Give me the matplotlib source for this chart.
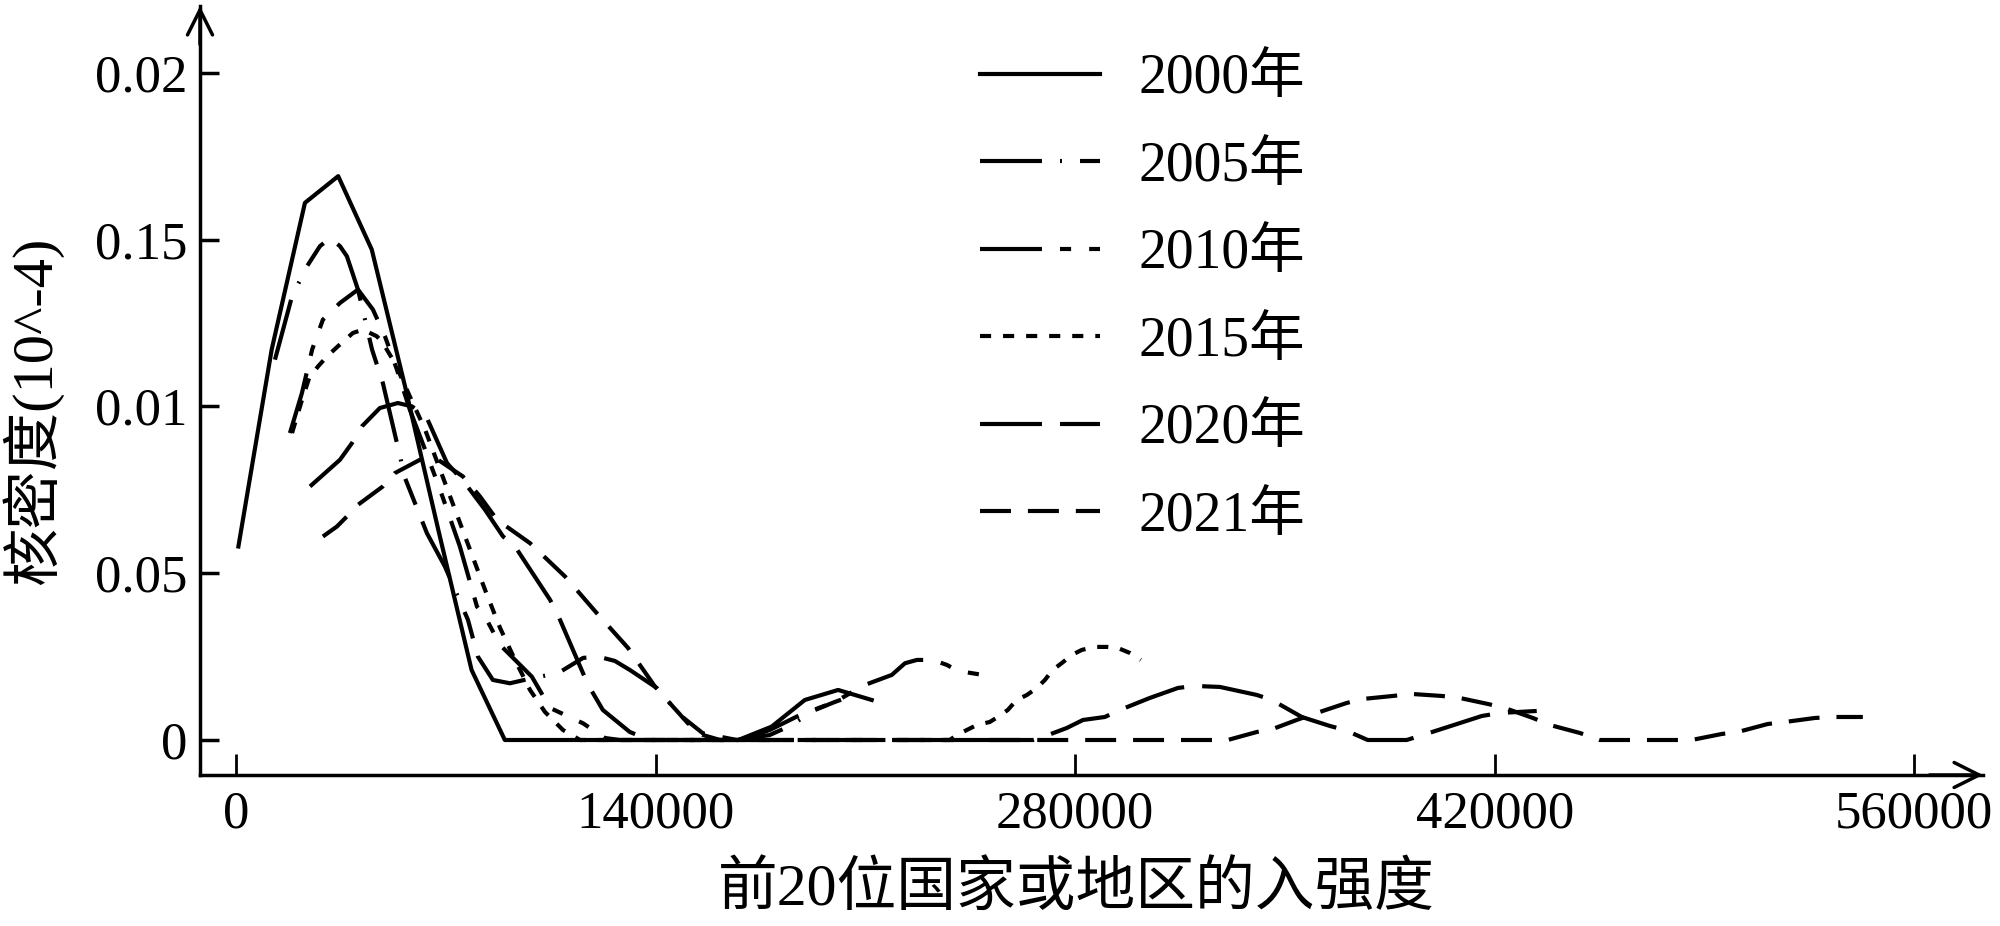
import matplotlib
matplotlib.use('Agg')
import matplotlib.pyplot as plt

plt.rcParams['font.family'] = ['Liberation Serif', 'Noto Sans CJK SC']
plt.rcParams['lines.scale_dashes'] = False

years = ['2000年', '2005年', '2010年', '2015年', '2020年', '2021年']

# kernel density curves
x2000 = [800, 11900, 23000, 34100, 45300, 56400, 67500, 78600, 89700, 100900,
         112000, 123100, 134200, 145300, 156500, 167600, 178700, 189800, 200900, 212100]
y2000 = [0.0058, 0.0117, 0.0161, 0.0169, 0.0147, 0.0106, 0.0063, 0.0021, 0, 0,
         0, 0, 0, 0, 0, 0, 0.0004, 0.0012, 0.0015, 0.0012]

x2005 = [13000, 18700, 23700, 28000, 31400, 34700, 37000, 40700, 45400, 49000, 53700,
         56400, 63700, 69700, 77400, 80700, 85700, 91400, 99100, 107400, 115800, 120800,
         126400, 131400, 140400, 148100, 155800, 167100, 178100, 184800, 193200, 199800, 204800]
y2005 = [0.0114, 0.0133, 0.0142, 0.0148, 0.01505, 0.0148, 0.0145, 0.0135, 0.0117, 0.0107, 0.0089,
         0.00785, 0.0062, 0.0052, 0.0036, 0.0025, 0.0018, 0.0017, 0.00186, 0.0020, 0.00246, 0.0025,
         0.00237, 0.0021, 0.00156, 0.00075, 0.0002, 0, 0.00015, 0.00042, 0.0009, 0.00114, 0.0013]

x2010 = [18000, 22000, 25400, 29000, 34700, 40700, 45700, 49700, 53700, 58000, 63100,
         68100, 74700, 80400, 83100, 88100, 98700, 104800, 115800, 123100, 128100, 168100,
         178100, 188200, 199800, 209800, 218800, 223200, 227200, 232500, 237200, 240900, 249200]
y2010 = [0.0092, 0.0104, 0.0117, 0.0126, 0.0131, 0.0135, 0.0129, 0.0121, 0.0111, 0.0099, 0.0087,
         0.0075, 0.0058, 0.0040, 0.0037, 0.00285, 0.0019, 0.00096, 0.0005, 0.00006, 0, 0,
         0.0003, 0.00075, 0.00114, 0.00165, 0.00195, 0.0023, 0.0024, 0.0024, 0.00225, 0.00207, 0.00195]

x2015 = [18700, 21700, 24400, 27400, 30400, 34000, 39000, 42400, 47000, 49000, 53000,
         58000, 63100, 68100, 73100, 78100, 83100, 88100, 93100, 98100, 103100, 109100,
         114800, 238200, 240500, 247200, 251500, 254200, 257500, 260500, 263900, 267200,
         269900, 272500, 275600, 278900, 282200, 286600, 290600, 294200, 298200, 301900]
y2015 = [0.0092, 0.0101, 0.01085, 0.0112, 0.0115, 0.0118, 0.0122, 0.0123, 0.0121, 0.0119, 0.0113,
         0.0103, 0.0093, 0.0081, 0.0069, 0.0057, 0.0045, 0.00336, 0.0024, 0.0015, 0.00084, 0.0003,
         0, 0, 0.00015, 0.00045, 0.00054, 0.00069, 0.0009, 0.0012, 0.00135, 0.00156,
         0.0018, 0.0021, 0.00231, 0.00255, 0.0027, 0.00279, 0.00279, 0.00276, 0.00261, 0.0024]

x2020 = [24700, 34700, 38700, 42000, 48000, 54000, 58700, 63700, 70400, 76400, 83100,
         89100, 93100, 104800, 107400, 115800, 118100, 122400, 131400, 138100, 265900, 269200,
         277200, 282600, 289900, 294900, 304900, 314300, 319900, 328300, 340600, 345600,
         355600, 365000, 370000, 377600, 390600, 396000, 415700, 421700, 434000]
y2020 = [0.0076, 0.0084, 0.0089, 0.0094, 0.00995, 0.0101, 0.0100, 0.00965, 0.0083, 0.0077, 0.0069,
         0.0061, 0.0058, 0.0042, 0.00375, 0.0020, 0.00156, 0.0009, 0.00024, 0, 0, 0.00009,
         0.00036, 0.0006, 0.00069, 0.0009, 0.00126, 0.00156, 0.00162, 0.00159, 0.00135, 0.0012,
         0.00069, 0.00042, 0.0003, 0, 0, 0.00015, 0.00072, 0.00081, 0.00087]

x2021 = [29000, 33700, 37000, 40700, 49000, 53000, 61400, 67400, 75700, 81400, 87100,
         98100, 109800, 120400, 130800, 139800, 150800, 155800, 161500, 330900, 340600,
         345900, 353900, 360600, 370600, 376000, 386000, 392300, 402300, 408300, 417700,
         423300, 432700, 438400, 448400, 455000, 485700, 495700, 501100, 511100, 516800,
         526800, 532800, 542800]
y2021 = [0.0061, 0.0064, 0.0067, 0.00705, 0.0076, 0.0080, 0.0084, 0.0084, 0.0079, 0.0073, 0.0066,
         0.0059, 0.0049, 0.0038, 0.00276, 0.0016, 0.0005, 0.00015, 0, 0, 0.00024,
         0.00033, 0.0006, 0.00081, 0.00111, 0.00123, 0.00132, 0.00138, 0.00132, 0.00126, 0.00108,
         0.00096, 0.00066, 0.00045, 0.00021, 0, 0, 0.00018, 0.00024, 0.00048, 0.00054,
         0.00066, 0.00069, 0.00069]

xs = [x2000, x2005, x2010, x2015, x2020, x2021]
ys = [y2000, y2005, y2010, y2015, y2020, y2021]
styles = ['-',
          (0, (44.6, 13, 1.4, 13, 20, 13)),
          (0, (44.6, 13, 8, 13, 8, 13)),
          (0, (8, 8.6)),
          (0, (44.6, 13)),
          (0, (22.3, 12.2))]

xticks = [0, 140000, 280000, 420000, 560000]
yticks = [0, 0.005, 0.01, 0.015, 0.02]
ytick_labels = ['0', '0.05', '0.01', '0.15', '0.02']

fig = plt.figure(figsize=(20, 9.26), dpi=100)
ax = fig.add_axes([0.1, 0.16307, 0.8915, 0.83045])

for x, y, ls, lab in zip(xs, ys, styles, years):
    ax.plot(x, y, color='black', lw=3, linestyle=ls, label=lab)

ax.set_xlim(-12010, 582900)
ax.set_ylim(-0.001049, 0.022)

ax.spines['top'].set_visible(False)
ax.spines['right'].set_visible(False)
ax.spines['left'].set_linewidth(2.5)
ax.spines['bottom'].set_linewidth(2.5)

# arrow heads on the axes
ax.annotate('', xy=(1, 0), xycoords='axes fraction', xytext=(0.97, 0),
            arrowprops=dict(arrowstyle='->', lw=2.5, color='black', mutation_scale=45,
                            shrinkA=0, shrinkB=0))
ax.annotate('', xy=(0, 1), xycoords='axes fraction', xytext=(0, 0.95),
            arrowprops=dict(arrowstyle='->', lw=2.5, color='black', mutation_scale=45,
                            shrinkA=0, shrinkB=0))

ax.set_xticks(xticks)
ax.set_xticklabels([str(t) for t in xticks])
ax.set_yticks(yticks)
ax.set_yticklabels(ytick_labels)
ax.tick_params(axis='x', direction='in', length=15, width=2, labelsize=38, pad=11)
ax.tick_params(axis='y', direction='in', length=14, width=2.5, labelsize=38, pad=9)

ax.set_xlabel('前20位国家或地区的入强度', fontsize=43)
ax.xaxis.set_label_coords(0.4916, -0.113)
ax.set_ylabel('核密度(10^-4)', fontsize=42)
ax.yaxis.set_label_coords(-0.077, 0.4733)

ax.legend(loc='upper left', bbox_to_anchor=(980 / 2000, 1 - 53 / 926),
          bbox_transform=fig.transFigure, frameon=False, fontsize=40,
          handlelength=2.16, handletextpad=0.7, labelspacing=0.64,
          borderpad=0, borderaxespad=0)

fig.savefig('out.png', dpi=100)
